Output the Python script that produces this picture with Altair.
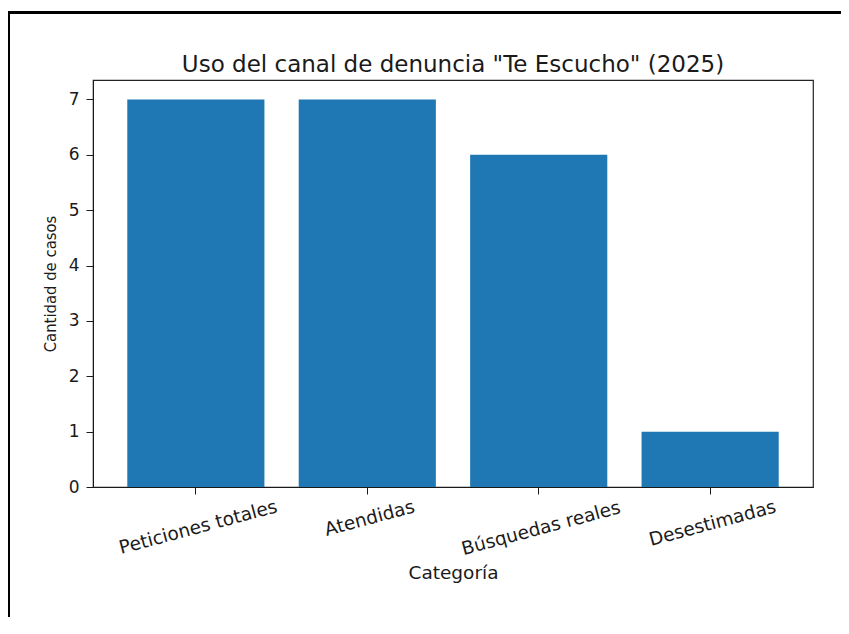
import altair as alt
import pandas as pd

categories = ["Peticiones totales", "Atendidas", "Búsquedas reales", "Desestimadas"]
values = [7, 7, 6, 1]
y_ticks = [0, 1, 2, 3, 4, 5, 6, 7]
title_text = ['Uso del canal de denuncia "Te Escucho" (2025)']

df = pd.DataFrame({"Categoría": categories, "Casos": values})
title_df = pd.DataFrame({"t": title_text})

FONT = "DejaVu Sans"
TXT = "#1a1a1a"
LABEL_SIZE = 18.5

# per-label padding so each rotated label's box starts just under its tick
pad_map = {
    "Peticiones totales": 24.0,
    "Atendidas": 15.0,
    "Búsquedas reales": 25.0,
    "Desestimadas": 20.0,
}
label_padding = {
    "condition": [
        {"test": f"datum.value === '{k}'", "value": v} for k, v in pad_map.items()
    ],
    "value": 10,
}

bars = alt.Chart(df).mark_bar(color="#1f77b4").encode(
    x=alt.X(
        "Categoría:N",
        sort=categories,
        scale=alt.Scale(paddingInner=0.2, paddingOuter=0.2),
        axis=alt.Axis(
            title="Categoría",
            labelAngle=-15,
            labelAlign="center",
            labelBaseline="top",
            labelFontSize=LABEL_SIZE,
            labelColor=TXT,
            labelPadding=label_padding,
            titleFontSize=18.5,
            titleFontWeight="normal",
            titleColor=TXT,
            titleY=91,
            titleBaseline="alphabetic",
            tickSize=7,
            tickColor=TXT,
            domainColor=TXT,
            grid=False,
            labelOverlap=False,
        ),
    ),
    y=alt.Y(
        "Casos:Q",
        scale=alt.Scale(domain=[0, 7.35], nice=False),
        axis=alt.Axis(
            title="Cantidad de casos",
            values=y_ticks,
            labelFontSize=17,
            labelColor=TXT,
            labelPadding=7,
            titleFontSize=16.5,
            titleFont="Liberation Sans Narrow, DejaVu Sans Condensed, DejaVu Sans",
            titleFontWeight="normal",
            titleColor=TXT,
            titleX=-38,
            titleBaseline="alphabetic",
            tickSize=7,
            tickColor=TXT,
            domainColor=TXT,
            grid=False,
        ),
    ),
)

title = alt.Chart(title_df).mark_text(
    fontSize=23, font=FONT, color=TXT, align="center", baseline="alphabetic"
).encode(text="t:N", x=alt.value(360), y=alt.value(-8))

# decorative frame around the figure (top and left edges)
frame_top = alt.Chart(df).mark_rule(color="black", strokeWidth=2.5).encode(
    x=alt.value(-90), x2=alt.value(900), y=alt.value(-67.5)
)
frame_left = alt.Chart(df).mark_rule(color="black", strokeWidth=2.5).encode(
    x=alt.value(-84.5), y=alt.value(-68.5), y2=alt.value(700)
)

chart = alt.layer(bars, title, frame_top, frame_left).properties(
    width=720,
    height=407,
    autosize=alt.AutoSizeParams(type="none"),
    padding={"left": 85, "top": 72, "right": 28, "bottom": 130},
).configure(font=FONT).configure_view(
    stroke="#222", strokeWidth=1.2
)

chart.save("out.html", embed_options={"renderer": "svg", "actions": False})
